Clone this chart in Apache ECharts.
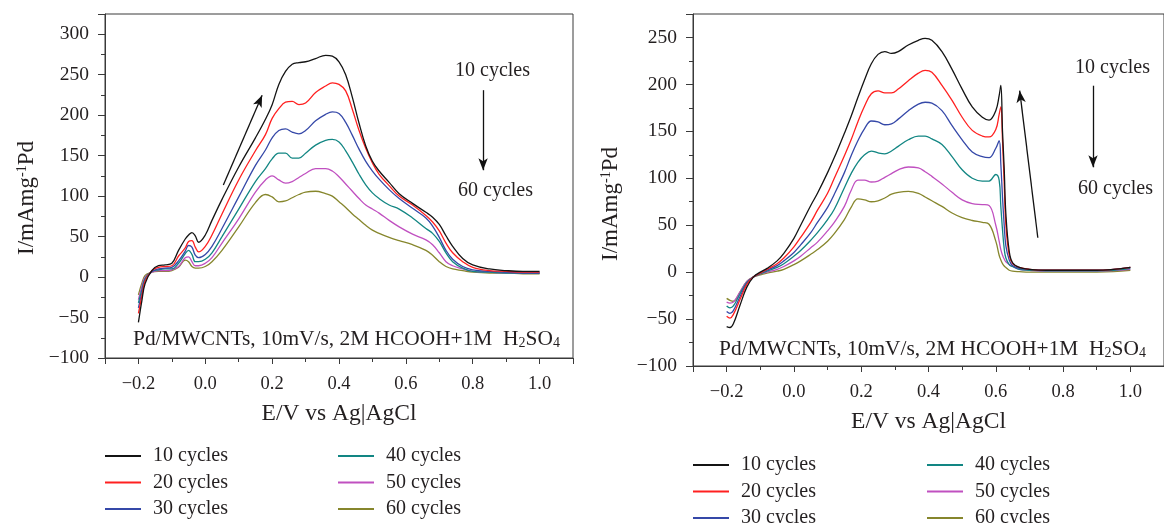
<!DOCTYPE html>
<html><head><meta charset="utf-8">
<script src="https://cdn.jsdelivr.net/npm/echarts@6/dist/echarts.min.js"></script>
<style>html,body{margin:0;padding:0;background:#fff}#c{width:1164px;height:523px}</style>
</head><body><div id="c"></div>
<script>
// ---- categories / names ----
const names = ['10 cycles','20 cycles','30 cycles','40 cycles','50 cycles','60 cycles'];
const colors = ['#141414','#ff2020','#3548a8','#128683','#c050c0','#86862c'];

// ---- tick labels ----
const xTickValues = [-0.2, 0, 0.2, 0.4, 0.6, 0.8, 1.0];
const xTickLabels = ['\u22120.2','0.0','0.2','0.4','0.6','0.8','1.0'];
const yTickValuesL = [-100,-50,0,50,100,150,200,250,300];
const yTickValuesR = [-100,-50,0,50,100,150,200,250];

// ---- left panel data (E/V, I) ----
const E_L = [-0.2,-0.19,-0.18,-0.16,-0.14,-0.12,-0.1,-0.08,-0.06,-0.05,-0.04,-0.03,-0.02,0,0.02,0.05,0.1,0.15,0.18,0.2,0.22,0.24,0.26,0.28,0.3,0.33,0.36,0.38,0.4,0.42,0.44,0.46,0.48,0.5,0.52,0.55,0.58,0.62,0.66,0.68,0.7,0.72,0.74,0.77,0.8,0.85,0.9,0.95,1.0];
const L10 = [-56,-30,-8,8,14,15,17,33,47,52,55,51,43,52,70,96,136,172,195,213,238,254,263,265,266,270,274,273,266,250,222,190,162,143,131,117,103,91,80,74,65,51,38,23,15,10,8,7,7];
const L20 = [-45,-24,-5,8,12,13,14,26,36,44,45,37,31,38,52,78,120,156,176,196,208,216,217,213,215,228,236,240,238,230,207,181,159,141,127,113,100,89,76,68,57,42,30,19,12,8,7,6,6];
const L30 = [-38,-20,-4,7,10,11,12,20,32,39,37,27,24,28,38,60,99,138,157,172,181,183,179,177,181,193,201,204,202,191,175,158,143,131,121,108,97,85,73,63,49,33,22,13,9,7,6,5,5];
const L40 = [-32,-16,-2,7,9,10,10,17,29,33,28,19,19,22,30,50,84,118,134,146,153,153,147,147,153,163,169,170,167,156,142,127,114,104,97,89,84,73,60,54,44,30,19,11,7,6,5,5,5];
const L50 = [-28,-12,0,6,8,8,9,13,24,25,19,14,14,17,24,42,72,105,120,125,120,116,118,123,128,134,134,131,124,115,106,97,89,84,79,70,62,53,46,40,30,19,14,10,7,6,5,5,5];
const L60 = [-22,-8,2,6,7,7,8,12,21,19,13,11,11,13,19,33,62,92,102,99,93,94,98,102,105,106,103,100,93,86,78,71,64,58,54,49,45,40,33,27,19,13,10,8,6,5,5,4,4];

// ---- right panel data (E/V, I) ----
const E_R = [-0.2,-0.19,-0.18,-0.16,-0.14,-0.12,-0.1,-0.08,-0.05,-0.03,0,0.02,0.05,0.07,0.1,0.12,0.15,0.17,0.19,0.21,0.23,0.25,0.27,0.29,0.31,0.34,0.37,0.39,0.41,0.44,0.47,0.5,0.53,0.56,0.58,0.6,0.61,0.615,0.62,0.625,0.63,0.64,0.65,0.67,0.7,0.75,0.8,0.9,0.95,1.0];
const R10 = [-58,-59,-55,-35,-16,-5,0,4,12,20,36,50,71,84,106,122,148,166,186,205,222,232,235,233,235,242,247,249,247,235,216,195,176,165,162,172,188,199,150,110,62,22,10,5,3,2,2,2,3,5];
const R20 = [-47,-49,-45,-29,-13,-5,-1,3,9,15,27,37,53,66,84,100,124,141,160,177,190,193,191,191,195,204,212,215,213,199,183,165,151,145,144,152,168,176,140,95,50,18,9,5,3,2,2,2,3,5];
const R30 = [-42,-44,-41,-26,-12,-5,-1,2,7,12,21,29,42,53,69,83,106,124,140,153,161,160,157,158,163,172,179,181,180,172,156,141,128,123,122,132,140,115,80,50,28,13,7,4,3,2,2,2,3,5];
const R40 = [-36,-38,-36,-23,-11,-5,-2,1,5,9,17,23,34,42,56,67,90,105,117,125,129,127,126,129,134,141,145,145,142,136,123,109,100,97,97,104,98,70,45,25,15,8,6,3,2,1.5,1.5,1.5,2,4];
const R50 = [-32,-33,-32,-21,-10,-5,-2,0,3,6,12,17,26,32,44,53,70,87,98,98,96,97,101,105,109,112,111,107,102,94,85,77,73,72,71,50,33,24,18,14,11,8,6,3,2,1,1,1,1.5,3];
const R60 = [-28,-30,-31,-21,-10,-5,-3,-1,1,3,8,12,19,24,33,41,56,69,78,77,75,76,79,83,85,86,84,80,76,70,63,58,55,53,51,33,18,13,9,6.5,5,2,1,0.5,0,0,0,0,0.5,2];

// ---- annotation arrows (data coordinates: [E, I]) ----
const arrowsL = [[[0.054,113.6],[0.170,224.7]], [[0.831,230.9],[0.831,132]]];
const arrowsR = [[[0.725,36.6],[0.671,193.3]], [[0.889,198.6],[0.889,111.7]]];

const FONT = "'Liberation Serif','DejaVu Serif',serif";
const TXT = '#231f20';
const AX = '#3a3a3a';

function fmtX(v){
  for (let i=0;i<xTickValues.length;i++) if (Math.abs(v-xTickValues[i])<1e-6) return xTickLabels[i];
  return '';
}
function fmtY(list){
  return function(v){
    for (const t of list) if (Math.abs(v-t)<1e-6) return String(t).replace('-','\u2212');
    return '';
  };
}

function xAxisDef(gi){
  return {
    type:'value', gridIndex:gi, min:-0.3, max:1.1, splitNumber:7,
    name:'E/V vs Ag|AgCl', nameLocation:'middle', nameGap:44,
    nameTextStyle:{fontFamily:FONT, fontSize:23.5, color:TXT},
    axisLine:{show:true, onZero:false, lineStyle:{color:AX, width:1}},
    axisTick:{show:true, inside:false, length:6, lineStyle:{color:AX}},
    minorTick:{show:true, splitNumber:2, length:4, lineStyle:{color:AX}},
    axisLabel:{fontFamily:FONT, fontSize:18.5, color:TXT, margin:17, formatter:fmtX, showMinLabel:false, showMaxLabel:false},
    splitLine:{show:false}, minorSplitLine:{show:false}
  };
}
function yAxisDef(gi, max, ticks, gap, shift){
  return {
    type:'value', gridIndex:gi, min:-100, max:max, interval:50,
    name:'I/mAmg{sup|-1}Pd', nameLocation:'middle', nameGap:gap, nameRotate:90,
    nameTextStyle:{fontFamily:FONT, fontSize:23, color:TXT, padding:[0,shift,0,0],
      rich:{sup:{fontFamily:FONT, fontSize:14, color:TXT, verticalAlign:'top', lineHeight:10}}},
    axisLine:{show:true, onZero:false, lineStyle:{color:AX, width:1}},
    axisTick:{show:true, inside:false, length:7, lineStyle:{color:AX}},
    minorTick:{show:true, splitNumber:2, length:4, lineStyle:{color:AX}},
    axisLabel:{fontFamily:FONT, fontSize:19.5, color:TXT, margin:16, formatter:fmtY(ticks)},
    splitLine:{show:false}, minorSplitLine:{show:false}
  };
}

const seriesList = [];
const setsL = [L10,L20,L30,L40,L50,L60];
const setsR = [R10,R20,R30,R40,R50,R60];
function arrowMark(arr){
  return {
    silent:true, symbol:['none','arrow'], symbolSize:[7,12],
    lineStyle:{color:'#111', width:1.3, type:'solid'},
    label:{show:false}, emphasis:{disabled:true},
    data: arr.map(a=>[{coord:a[0]},{coord:a[1]}])
  };
}
names.forEach((n,i)=>{
  seriesList.push({
    name:n, type:'line', xAxisIndex:0, yAxisIndex:0,
    data:E_L.map((x,k)=>[x,setsL[i][k]]),
    showSymbol:false, smooth:0.4,
    lineStyle:{width:1.3, color:colors[i]}, itemStyle:{color:colors[i]},
    z: 10-i,
    markLine: i===0 ? arrowMark(arrowsL) : undefined
  });
});
names.forEach((n,i)=>{
  seriesList.push({
    name:n, type:'line', xAxisIndex:1, yAxisIndex:1,
    data:E_R.map((x,k)=>[x,setsR[i][k]]),
    showSymbol:false, smooth:0.4,
    lineStyle:{width:1.3, color:colors[i]}, itemStyle:{color:colors[i]},
    z: 10-i,
    markLine: i===0 ? arrowMark(arrowsR) : undefined
  });
});

function legendDef(left, top, items){
  return {
    left:left, top:top, width:220, height:100, orient:'vertical', data:items, icon:'rect',
    padding:0, itemWidth:36, itemHeight:2, itemGap:6.5, selectedMode:false,
    textStyle:{fontFamily:FONT, fontSize:20, color:TXT, lineHeight:20, padding:[0,0,0,7]}
  };
}

const annoRich = {sub:{fontFamily:FONT, fontSize:14, fill:TXT, verticalAlign:'bottom', lineHeight:6}};
function textEl(x,y,t,size,rich){
  return {type:'text', left:x, top:y, silent:true,
    style:{text:t, fontFamily:FONT, fontSize:size, fill:TXT, rich:rich}};
}

const chart = echarts.init(document.getElementById('c'), null, {renderer:'canvas'});
chart.setOption({
  animation:false,
  backgroundColor:'#fff',
  grid:[
    {left:105, top:14, width:468, height:344, show:true, borderColor:AX, borderWidth:1, containLabel:false},
    {left:693, top:14, width:483, height:352, show:true, borderColor:AX, borderWidth:1, containLabel:false}
  ],
  xAxis:[xAxisDef(0), xAxisDef(1)],
  yAxis:[yAxisDef(0,325,yTickValuesL,67,24), yAxisDef(1,275,yTickValuesR,71,28)],
  legend:[
    legendDef(105,446,names.slice(0,3)), legendDef(338,446,names.slice(3)),
    legendDef(693,455,names.slice(0,3)), legendDef(927,455,names.slice(3))
  ],
  graphic:[
    textEl(133,329,'Pd/MWCNTs, 10mV/s, 2M HCOOH+1M  H{sub|2}SO{sub|4}',21.4,annoRich),
    textEl(719,339,'Pd/MWCNTs, 10mV/s, 2M HCOOH+1M  H{sub|2}SO{sub|4}',21.4,annoRich),
    textEl(455,61,'10 cycles',20),
    textEl(458,181,'60 cycles',20),
    textEl(1075,58,'10 cycles',20),
    textEl(1078,179,'60 cycles',20)
  ],
  series:seriesList
});
</script>
</body></html>
